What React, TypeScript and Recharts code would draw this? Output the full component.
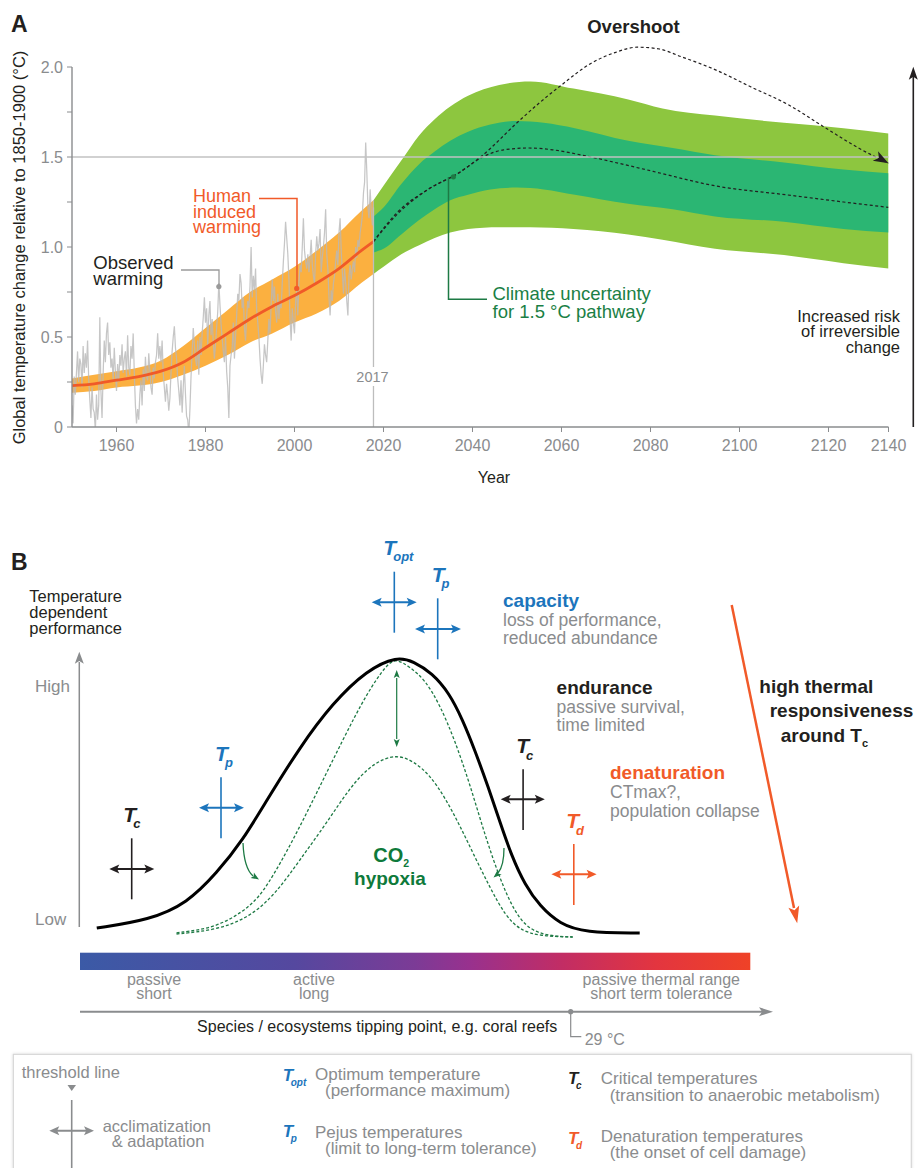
import React from "react";
import {
  ComposedChart,
  Area,
  Line,
  XAxis,
  YAxis,
  ReferenceLine,
  ReferenceDot,
} from "recharts";

const FONT = "'Liberation Sans', Arial, Helvetica, sans-serif";
const GRAY = "#8a8c8e";
const INK = "#231f20";
const BLUE = "#1c75bc";
const ORANGE = "#f15a29";
const GREEN = "#1d7a44";

// ---------- panel A ----------
const xTicks = [1960, 1980, 2000, 2020, 2040, 2060, 2080, 2100, 2120, 2140];
const yTicks = [0, 0.25, 0.5, 0.75, 1, 1.25, 1.5, 1.75, 2];

// observed warming, quarterly from 1950
const observedStart = 1950;
const observed = [
  0.12, 0.02, 0.28, 0.18, 0.3, 0.42, 0.25, 0.38, 0.35, 0.22, 0.45, 0.3,
  0.41, 0.33, 0.48, 0.27, 0.15, 0.05, 0.22, 0.1, 0.08, -0.02, 0.18, 0.04,
  0.12, 0.61, 0.2, 0.05, 0.3, 0.48, 0.36, 0.52, 0.58, 0.4, 0.47, 0.33,
  0.38, 0.26, 0.44, 0.31, 0.2, 0.35, 0.25, 0.4, 0.34, 0.46, 0.3, 0.38,
  0.42, 0.28, 0.51, 0.33, 0.29, 0.45, 0.38, 0.52, 0.3, 0.12, 0.02, 0.1,
  0.04, 0.18, 0.26, 0.12, 0.32, 0.2, 0.39, 0.28, 0.26, 0.41, 0.31, 0.22,
  0.18, 0.33, 0.27, 0.36, 0.4, 0.52, 0.38, 0.45, 0.36, 0.48, 0.3, 0.22,
  0.14, 0.24, 0.18, 0.09, 0.16, 0.3, 0.42, 0.5, 0.56, 0.44, 0.38, 0.27,
  0.2, 0.12, 0.26, 0.08, 0.22, 0.34, 0.18, 0.06, 0.04, -0.04, 0.1, 0.28,
  0.42, 0.55, 0.46, 0.38, 0.34, 0.48, 0.29, 0.5, 0.4, 0.52, 0.61, 0.72,
  0.58, 0.66, 0.45, 0.62, 0.7, 0.51, 0.6, 0.47, 0.38, 0.46, 0.55, 0.64,
  0.8, 0.68, 0.57, 0.49, 0.42, 0.36, 0.5, 0.31, 0.22, 0.05, 0.34, 0.4,
  0.44, 0.58, 0.38, 0.5, 0.62, 0.74, 0.7, 0.85, 0.8, 0.66, 0.72, 0.55,
  0.48, 0.62, 0.7, 0.66, 0.78, 1.0, 0.72, 0.84, 0.76, 0.88, 0.65, 0.58,
  0.5, 0.38, 0.29, 0.24, 0.34, 0.46, 0.4, 0.36, 0.48, 0.6, 0.52, 0.68,
  0.82, 0.7, 0.78, 0.64, 0.58, 0.74, 0.6, 0.7, 0.66, 0.8, 0.92, 1.02,
  1.14, 1.05, 0.96, 0.82, 0.6, 0.48, 0.66, 0.58, 0.52, 0.7, 0.76, 0.62,
  0.8, 0.9, 0.86, 1.0, 1.16, 0.98, 0.92, 0.88, 0.96, 0.86, 0.94, 1.04,
  0.9, 0.84, 0.8, 0.96, 1.06, 0.98, 1.02, 1.1, 0.86, 0.94, 1.0, 1.08,
  1.21, 0.96, 0.88, 0.72, 0.62, 0.76, 0.7, 0.8, 0.84, 0.92, 0.98, 0.9,
  1.08, 1.16, 0.98, 0.86, 0.74, 0.88, 0.8, 0.7, 0.62, 0.84, 0.9, 0.82,
  0.88, 0.92, 0.86, 1.0, 0.94, 1.04, 1.0, 1.08, 1.12, 1.18, 1.3, 1.36,
  1.58, 1.42, 1.22, 1.16, 1.32, 1.2, 1.12, 1.26,
];

// human induced warming (best estimate and likely range)
const humanYears = [1950, 1955, 1960, 1965, 1970, 1975, 1980, 1985, 1990, 1995, 2000, 2005, 2010, 2015, 2017.75];
const humanMid = [0.23, 0.24, 0.26, 0.28, 0.31, 0.36, 0.44, 0.52, 0.6, 0.67, 0.73, 0.8, 0.88, 0.98, 1.03];
const humanLow = [0.19, 0.2, 0.22, 0.23, 0.25, 0.29, 0.34, 0.4, 0.47, 0.52, 0.58, 0.63, 0.7, 0.8, 0.85];
const humanHigh = [0.27, 0.29, 0.31, 0.33, 0.37, 0.45, 0.55, 0.65, 0.75, 0.82, 0.89, 0.98, 1.08, 1.2, 1.26];

// climate uncertainty for the 1.5 °C pathway
const outerYears = [2017.75, 2020, 2024, 2028, 2031.5, 2035, 2039, 2046, 2053, 2062.7, 2075, 2082.7, 2094.5, 2110, 2125, 2140];
const outerLow = [0.85, 0.89, 0.96, 1.01, 1.05, 1.08, 1.1, 1.11, 1.11, 1.1, 1.07, 1.04, 0.99, 0.955, 0.91, 0.88];
const outerHigh = [1.26, 1.34, 1.48, 1.62, 1.71, 1.78, 1.84, 1.9, 1.92, 1.88, 1.82, 1.77, 1.73, 1.69, 1.66, 1.63];
const innerYears = [2017.75, 2020, 2024, 2028, 2031.5, 2035, 2039, 2044, 2050, 2056, 2063, 2075, 2085, 2094.5, 2110, 2125, 2140];
const innerLow = [0.97, 0.99, 1.07, 1.15, 1.21, 1.26, 1.29, 1.32, 1.33, 1.32, 1.29, 1.24, 1.21, 1.17, 1.14, 1.1, 1.08];
const innerHigh = [1.17, 1.22, 1.35, 1.46, 1.53, 1.59, 1.64, 1.68, 1.7, 1.69, 1.66, 1.59, 1.55, 1.51, 1.47, 1.43, 1.41];

const pathwayYears = [2017.75, 2023, 2030, 2036.8, 2042.3, 2047, 2052.7, 2058, 2064.7, 2072, 2080.6, 2094.5, 2110.5, 2125, 2140];
const pathway = [1.03, 1.19, 1.32, 1.41, 1.5, 1.54, 1.55, 1.54, 1.51, 1.47, 1.42, 1.34, 1.29, 1.25, 1.22];
const overshootYears = [2017.75, 2023, 2030, 2036.8, 2042.3, 2050, 2055, 2060, 2066.6, 2072, 2077, 2082, 2086.6, 2095, 2102.5, 2111, 2118.8, 2130, 2140];
const overshoot = [1.03, 1.18, 1.32, 1.41, 1.51, 1.69, 1.8, 1.9, 2.02, 2.08, 2.11, 2.1, 2.06, 1.98, 1.89, 1.79, 1.67, 1.55, 1.465];

// ---------- panel B (relative temperature 0-100, performance 0-100) ----------
const performanceT = [2.5, 10.4, 16.0, 20.4, 24.3, 27.9, 32.8, 37.7, 42.8, 47.3, 49.8, 52.5, 55.1, 57.1, 58.9, 60.9, 62.7, 64.4, 66.4, 68.6, 71.6, 75.3, 83.5];
const performanceP = [4.0, 6.7, 12.3, 22.3, 33.3, 46.7, 64.3, 79.0, 90.0, 94.6, 92.8, 89.0, 82.3, 73.3, 63.3, 51.0, 39.0, 28.0, 18.3, 11.3, 5.3, 2.5, 2.3];
const normoxicT = [14.4, 20.4, 25.4, 27.9, 31.8, 35.3, 39.2, 42.8, 45.8, 47.2, 49.2, 51.5, 53.7, 55.9, 58.2, 60.4, 62.7, 64.9, 67.1, 70.1, 73.5];
const normoxicP = [2.4, 4.0, 11.0, 17.7, 33.3, 49.0, 66.7, 82.3, 92.0, 93.8, 91.0, 86.7, 78.3, 66.7, 51.7, 35.0, 20.0, 9.0, 3.3, 1.3, 1.0];
const hypoxicT = [14.4, 20.4, 25.4, 29.3, 32.8, 36.8, 40.3, 43.7, 47.2, 49.8, 52.2, 54.5, 56.7, 58.9, 61.2, 63.4, 65.6, 68.6, 73.5];
const hypoxicP = [2.0, 3.3, 7.7, 15.7, 26.7, 39.0, 51.0, 59.0, 62.0, 59.5, 55.0, 47.3, 38.0, 27.7, 17.3, 8.3, 3.3, 1.3, 1.0];

// merge the panel A series into one table keyed by year
const rows = new Map<number, any>();
function put(xs: number[], key: string, vals: any[]) {
  xs.forEach((x, i) => {
    const r = rows.get(x) ?? { year: x };
    r[key] = vals[i];
    rows.set(x, r);
  });
}
put(observed.map((_, i) => observedStart + i * 0.25), "observed", observed);
put(humanYears, "human", humanMid);
put(humanYears, "humanRange", humanLow.map((v, i) => [v, humanHigh[i]]));
put(outerYears, "outer", outerLow.map((v, i) => [v, outerHigh[i]]));
put(innerYears, "inner", innerLow.map((v, i) => [v, innerHigh[i]]));
put(pathwayYears, "pathway", pathway);
put(overshootYears, "overshoot", overshoot);
const tableA = Array.from(rows.values()).sort((a, b) => a.year - b.year);

const perfData = performanceT.map((t, i) => ({ t, p: performanceP[i] }));
const normoxicData = normoxicT.map((t, i) => ({ t, p: normoxicP[i] }));
const hypoxicData = hypoxicT.map((t, i) => ({ t, p: hypoxicP[i] }));

// year axis as drawn in the figure: even spacing up to 2120, last tick squeezed
const YEAR_KNOTS = [1950, 2120, 2140];
const POS_KNOTS = [0, 0.9265, 1];
function makeYearScale(): any {
  let dom: number[] = [1950, 2140];
  let rng: number[] = [0, 1];
  const frac = (v: number) => {
    let i = 1;
    while (i < YEAR_KNOTS.length - 1 && v > YEAR_KNOTS[i]) i++;
    const a = YEAR_KNOTS[i - 1];
    const b = YEAR_KNOTS[i];
    return POS_KNOTS[i - 1] + ((v - a) / (b - a)) * (POS_KNOTS[i] - POS_KNOTS[i - 1]);
  };
  const scale: any = (v: any) => rng[0] + frac(Number(v)) * (rng[1] - rng[0]);
  scale.domain = (d?: any[]) => {
    if (!d) return dom.slice();
    dom = d.map(Number);
    return scale;
  };
  scale.range = (r?: number[]) => {
    if (!r) return rng.slice();
    rng = r.slice();
    return scale;
  };
  scale.rangeRound = scale.range;
  scale.copy = () => makeYearScale().domain(dom).range(rng);
  scale.ticks = () => xTicks.slice();
  scale.tickFormat = () => (v: number) => String(v);
  scale.nice = () => scale;
  scale.clamp = () => scale;
  scale.unknown = () => scale;
  scale.invert = (px: number) => {
    const f = (px - rng[0]) / (rng[1] - rng[0]);
    let i = 1;
    while (i < POS_KNOTS.length - 1 && f > POS_KNOTS[i]) i++;
    const a = POS_KNOTS[i - 1];
    const b = POS_KNOTS[i];
    return YEAR_KNOTS[i - 1] + ((f - a) / (b - a)) * (YEAR_KNOTS[i] - YEAR_KNOTS[i - 1]);
  };
  return scale;
}
const yearScale = makeYearScale();

const fmtY = (v: number) => (v % 0.5 === 0 ? (v === 0 ? "0" : v.toFixed(1)) : "");

function Head({ x, y, angle, len = 9, half = 4, fill }: any) {
  return (
    <polygon
      points={`0,0 ${-len},${-half} ${-len * 0.78},0 ${-len},${half}`}
      transform={`translate(${x},${y}) rotate(${angle})`}
      fill={fill}
    />
  );
}

function Cross({ cx, top, bottom, cy, left, right, color }: any) {
  return (
    <g>
      <line x1={cx} y1={top} x2={cx} y2={bottom} stroke={color} strokeWidth={1.6} />
      <line x1={left + 5} y1={cy} x2={right - 5} y2={cy} stroke={color} strokeWidth={2} />
      <Head x={right} y={cy} angle={0} len={10} half={4.5} fill={color} />
      <Head x={left} y={cy} angle={180} len={10} half={4.5} fill={color} />
    </g>
  );
}

function Lines({ x, y, lines, gap, anchor = "start", ...rest }: any) {
  return (
    <text x={x} y={y} textAnchor={anchor} fontFamily={FONT} {...rest}>
      {lines.map((l: string, i: number) => (
        <tspan key={i} x={x} y={y + i * gap}>
          {l}
        </tspan>
      ))}
    </text>
  );
}

function TSym({ x, y, sub, color, size = 21, subSize = 13 }: any) {
  return (
    <text x={x} y={y} fill={color} fontFamily={FONT} fontWeight="bold" fontStyle="italic" fontSize={size}>
      T
      <tspan fontSize={subSize} dx={-size * 0.14} dy={size * 0.3}>
        {sub}
      </tspan>
    </text>
  );
}

const overshootHead = (props: any) => {
  const { cx, cy, payload, index } = props;
  if (cx == null || cy == null || !payload || payload.year !== overshootYears[overshootYears.length - 1]) {
    return <g key={`oh-${index}`} />;
  }
  return (
    <polygon
      key="oh-end"
      points="0,0 -15,-5.5 -11,0 -15,5.5"
      transform={`translate(${cx},${cy}) rotate(29)`}
      fill={INK}
    />
  );
};

function Overlay() {
  const tick = { fontFamily: FONT };
  return (
    <svg width={918} height={1168} style={{ position: "absolute", left: 0, top: 0, pointerEvents: "none" }}>
      <defs>
        <linearGradient id="thermalBar" x1="0" x2="1" y1="0" y2="0">
          <stop offset="0%" stopColor="#3b5aa6" />
          <stop offset="32%" stopColor="#55489f" />
          <stop offset="50%" stopColor="#7c3b96" />
          <stop offset="58%" stopColor="#98318e" />
          <stop offset="72%" stopColor="#c22d64" />
          <stop offset="86%" stopColor="#e3353f" />
          <stop offset="100%" stopColor="#ef4227" />
        </linearGradient>
        <filter id="boxShadow" x="-5%" y="-20%" width="110%" height="140%">
          <feDropShadow dx="0" dy="0" stdDeviation="1.5" floodColor="#000" floodOpacity="0.12" />
        </filter>
      </defs>

      {/* ---- panel A annotations ---- */}
      <text x={11} y={31.5} fontFamily={FONT} fontWeight="bold" fontSize={23} fill={INK}>A</text>
      <text transform="translate(25,247.5) rotate(-90)" textAnchor="middle" fontFamily={FONT} fontSize={16.5} fill={INK}>
        Global temperature change relative to 1850-1900 (°C)
      </text>
      <text x={633.5} y={33.3} textAnchor="middle" fontFamily={FONT} fontWeight="bold" fontSize={18.5} fill={INK}>Overshoot</text>

      <Lines x={193} y={201.7} gap={15.8} lines={["Human", "induced", "warming"]} fontSize={18} fill={ORANGE} />
      <polyline points="259,198.5 297,198.5 297,288" fill="none" stroke={ORANGE} strokeWidth={1.5} />

      <Lines x={93.3} y={269.3} gap={15.8} lines={["Observed", "warming"]} fontSize={18.5} fill={INK} />
      <polyline points="181,270 219,270 219,287" fill="none" stroke="#9a9a9a" strokeWidth={1.3} />

      <polyline points="448.5,177 448.5,299.3 487,299.3" fill="none" stroke={GREEN} strokeWidth={1.5} />
      <Lines x={492.5} y={300} gap={18.3} lines={["Climate uncertainty", "for 1.5 °C pathway"]} fontSize={18.5} fill="#1b7f45" />

      <rect x={355} y={367} width={36} height={19} fill="#fff" />
      <text x={372.5} y={381.7} textAnchor="middle" {...tick} fontSize={14.5} fill={GRAY}>2017</text>
      <text x={494} y={483} textAnchor="middle" {...tick} fontSize={16} fill={INK}>Year</text>

      <Lines x={900} y={321.7} gap={15.7} anchor="end" lines={["Increased risk", "of irreversible", "change"]} fontSize={16.5} fill={INK} />
      <line x1={913.3} y1={427} x2={913.3} y2={76} stroke={INK} strokeWidth={1.6} />
      <Head x={913.3} y={66.7} angle={-90} len={13} half={4.5} fill={INK} />

      {/* ---- panel B annotations ---- */}
      <text x={11} y={570} fontFamily={FONT} fontWeight="bold" fontSize={23} fill={INK}>B</text>
      <Lines x={29.3} y={601.7} gap={15.9} lines={["Temperature", "dependent", "performance"]} fontSize={16.5} fill={INK} />
      <line x1={79.3} y1={927} x2={79.3} y2={662} stroke={GRAY} strokeWidth={1.5} />
      <Head x={79.3} y={651.7} angle={-90} len={12} half={4.5} fill={GRAY} />
      <text x={35} y={691.7} fontFamily={FONT} fontSize={17} fill={GRAY}>High</text>
      <text x={35} y={925} fontFamily={FONT} fontSize={17} fill={GRAY}>Low</text>

      <TSym x={383.3} y={555} sub="opt" color={BLUE} />
      <Cross cx={394.3} top={571.7} bottom={632.7} cy={602.3} left={371.7} right={416.7} color={BLUE} />
      <TSym x={431.7} y={581.7} sub="p" color={BLUE} />
      <Cross cx={437.7} top={598.3} bottom={659.3} cy={629} left={415} right={461} color={BLUE} />
      <TSym x={215} y={760.7} sub="p" color={BLUE} />
      <Cross cx={221} top={777.3} bottom={838.3} cy={807.7} left={199} right={244} color={BLUE} />
      <TSym x={123.3} y={821.7} sub="c" color={INK} />
      <Cross cx={131.7} top={838.3} bottom={899.3} cy={869} left={109.3} right={154.3} color={INK} />
      <TSym x={516.2} y={753.3} sub="c" color={INK} />
      <Cross cx={523.1} top={769.3} bottom={830} cy={799.3} left={500.7} right={544.8} color={INK} />
      <TSym x={566.2} y={828.3} sub="d" color={ORANGE} />
      <Cross cx={573.8} top={844} bottom={905} cy={874.3} left={551.4} right={596.6} color={ORANGE} />

      <text x={503} y={606.7} fontFamily={FONT} fontWeight="bold" fontSize={19} fill={BLUE}>capacity</text>
      <Lines x={503} y={626} gap={18} lines={["loss of performance,", "reduced abundance"]} fontSize={17.5} fill={GRAY} />
      <text x={556.6} y={694} fontFamily={FONT} fontWeight="bold" fontSize={19} fill={INK}>endurance</text>
      <Lines x={556.6} y={712.7} gap={18.3} lines={["passive survival,", "time limited"]} fontSize={17.5} fill={GRAY} />
      <text x={610} y={778.7} fontFamily={FONT} fontWeight="bold" fontSize={19} fill={ORANGE}>denaturation</text>
      <Lines x={610} y={797.7} gap={19} lines={["CTmax?,", "population collapse"]} fontSize={17.5} fill={GRAY} />

      <line x1={731.7} y1={605} x2={794} y2={908} stroke={ORANGE} strokeWidth={2.5} />
      <Head x={797.2} y={923.3} angle={78.4} len={17} half={5.5} fill={ORANGE} />
      <text x={759.3} y={693} fontFamily={FONT} fontWeight="bold" fontSize={19} fill={INK}>high thermal</text>
      <text x={769.7} y={716.7} fontFamily={FONT} fontWeight="bold" fontSize={19} fill={INK}>responsiveness</text>
      <text x={780.7} y={741.7} fontFamily={FONT} fontWeight="bold" fontSize={19} fill={INK}>
        around T<tspan fontSize={11} dy={5}>c</tspan>
      </text>

      <line x1={396.7} y1={678} x2={396.7} y2={739} stroke={GREEN} strokeWidth={1.2} />
      <Head x={396.7} y={670} angle={-90} len={8} half={3} fill={GREEN} />
      <Head x={396.7} y={747} angle={90} len={8} half={3} fill={GREEN} />
      <path d="M243,843 Q244,868 253,876" fill="none" stroke={GREEN} strokeWidth={1.3} />
      <Head x={259} y={879.5} angle={32} len={8} half={3.2} fill={GREEN} />
      <path d="M504,848 Q504,866 498,873" fill="none" stroke={GREEN} strokeWidth={1.3} />
      <Head x={493.5} y={877.5} angle={140} len={8} half={3.2} fill={GREEN} />
      <text x={373.3} y={861.7} fontFamily={FONT} fontWeight="bold" fontSize={20} fill="#0e7a3b">
        CO<tspan fontSize={10.5} dy={5}>2</tspan>
      </text>
      <text x={390} y={885} textAnchor="middle" fontFamily={FONT} fontWeight="bold" fontSize={19} fill="#0e7a3b">hypoxia</text>

      <rect x={80} y={952.7} width={670.3} height={17.3} fill="url(#thermalBar)" />
      <Lines x={154} y={985} gap={14} anchor="middle" lines={["passive", "short"]} fontSize={16} fill={GRAY} />
      <Lines x={314} y={985} gap={14} anchor="middle" lines={["active", "long"]} fontSize={16} fill={GRAY} />
      <Lines x={661.3} y={985} gap={14} anchor="middle" lines={["passive thermal range", "short term tolerance"]} fontSize={16} fill={GRAY} />
      <line x1={80} y1={1011.7} x2={762} y2={1011.7} stroke={GRAY} strokeWidth={2} />
      <Head x={773} y={1011.7} angle={0} len={14} half={4.5} fill={GRAY} />
      <circle cx={570.7} cy={1011.7} r={2.6} fill={GRAY} />
      <polyline points="570.7,1011.7 570.7,1036.7 581.3,1036.7" fill="none" stroke={GRAY} strokeWidth={1.2} />
      <text x={584.7} y={1045} fontFamily={FONT} fontSize={16} fill={GRAY}>29 °C</text>
      <text x={557.3} y={1031.7} textAnchor="end" fontFamily={FONT} fontSize={16} fill={INK}>
        Species / ecosystems tipping point, e.g. coral reefs
      </text>

      {/* legend box */}
      <rect x={13.3} y={1054.3} width={898} height={130} fill="#fff" stroke="#d6d6d6" strokeWidth={1.2} filter="url(#boxShadow)" />
      <text x={21.7} y={1078} fontFamily={FONT} fontSize={16.5} fill={GRAY}>threshold line</text>
      <polygon points="67.5,1085 76,1085 71.7,1091" fill={GRAY} />
      <line x1={71.7} y1={1100} x2={71.7} y2={1168} stroke={GRAY} strokeWidth={1.6} />
      <line x1={54} y1={1130.7} x2={89} y2={1130.7} stroke={GRAY} strokeWidth={2} />
      <Head x={94} y={1130.7} angle={0} len={10} half={4.5} fill={GRAY} />
      <Head x={49.3} y={1130.7} angle={180} len={10} half={4.5} fill={GRAY} />
      <text x={102.7} y={1132.3} fontFamily={FONT} fontSize={16.5} fill={GRAY}>acclimatization</text>
      <text x={111.7} y={1146.7} fontFamily={FONT} fontSize={16.5} fill={GRAY}>&amp; adaptation</text>

      <TSym x={282.7} y={1080.7} sub="opt" color={BLUE} size={17} subSize={10} />
      <text x={315} y={1080.3} fontFamily={FONT} fontSize={17} fill={GRAY}>Optimum temperature</text>
      <text x={325} y={1096} fontFamily={FONT} fontSize={17} fill={GRAY}>(performance maximum)</text>
      <TSym x={282.7} y={1137} sub="p" color={BLUE} size={17} subSize={10} />
      <text x={315} y={1138} fontFamily={FONT} fontSize={17} fill={GRAY}>Pejus temperatures</text>
      <text x={325} y={1153.5} fontFamily={FONT} fontSize={17} fill={GRAY}>(limit to long-term tolerance)</text>
      <TSym x={568} y={1084} sub="c" color={INK} size={17} subSize={10} />
      <text x={600.7} y={1084.3} fontFamily={FONT} fontSize={17} fill={GRAY}>Critical temperatures</text>
      <text x={609.7} y={1100.5} fontFamily={FONT} fontSize={17} fill={GRAY}>(transition to anaerobic metabolism)</text>
      <TSym x={568} y={1144} sub="d" color={ORANGE} size={17} subSize={10} />
      <text x={600.7} y={1141.7} fontFamily={FONT} fontSize={17} fill={GRAY}>Denaturation temperatures</text>
      <text x={609.7} y={1157.5} fontFamily={FONT} fontSize={17} fill={GRAY}>(the onset of cell damage)</text>
    </svg>
  );
}

export default function App() {
  const tickStyle = { fill: GRAY, fontSize: 16, fontFamily: FONT };
  return (
    <div style={{ position: "absolute", left: 0, top: 0, width: 918, height: 1168, background: "#fff", overflow: "hidden" }}>
      <div style={{ position: "absolute", left: 0, top: 0 }}>
        <ComposedChart
          width={918}
          height={500}
          data={tableA}
          margin={{ top: 31, right: 29.5, bottom: 43, left: 32 }}
        >
          <XAxis
            dataKey="year"
            type="number"
            domain={[1950, 2140]}
            scale={yearScale}
            ticks={xTicks}
            interval={0}
            allowDataOverflow
            height={30}
            tickSize={5}
            tickMargin={8}
            tick={tickStyle}
            tickLine={{ stroke: GRAY }}
            axisLine={{ stroke: GRAY, strokeWidth: 1.4 }}
          />
          <YAxis
            type="number"
            domain={[0, 2.2]}
            ticks={yTicks}
            interval={0}
            allowDataOverflow
            width={40}
            tickSize={5}
            tickMargin={4}
            tick={tickStyle}
            tickFormatter={fmtY}
            tickLine={{ stroke: GRAY }}
            axisLine={false}
          />
          <Area dataKey="humanRange" type="monotone" fill="#fbb040" fillOpacity={1} stroke="none" connectNulls isAnimationActive={false} />
          <Area dataKey="outer" type="monotone" fill="#8dc63f" fillOpacity={1} stroke="none" connectNulls isAnimationActive={false} />
          <Area dataKey="inner" type="monotone" fill="#2bb673" fillOpacity={1} stroke="none" connectNulls isAnimationActive={false} />
          <Line dataKey="observed" type="linear" stroke="#b8b8b8" strokeOpacity={0.8} strokeWidth={1.25} dot={false} connectNulls isAnimationActive={false} />
          <Line dataKey="human" type="monotone" stroke="#f05a28" strokeWidth={2.8} dot={false} connectNulls isAnimationActive={false} />
          <Line dataKey="pathway" type="monotone" stroke={INK} strokeWidth={1.2} strokeDasharray="3 2.5" dot={false} connectNulls isAnimationActive={false} />
          <Line dataKey="overshoot" type="monotone" stroke={INK} strokeWidth={1.2} strokeDasharray="3 2.5" dot={overshootHead} connectNulls isAnimationActive={false} />
          <ReferenceLine y={1.5} stroke="#c2c2c2" strokeWidth={1.6} />
          <ReferenceLine segment={[{ x: 2017.75, y: 0 }, { x: 2017.75, y: 1.22 }]} stroke="#bdbdbd" strokeWidth={1.3} />
          <ReferenceLine segment={[{ x: 1950, y: 0 }, { x: 1950, y: 2 }]} stroke={GRAY} strokeWidth={1.4} />
          <ReferenceDot x={1983} y={0.78} r={2.6} fill="#9a9a9a" stroke="none" />
          <ReferenceDot x={2000.5} y={0.77} r={2.6} fill={ORANGE} stroke="none" />
          <ReferenceDot x={2035.7} y={1.39} r={2.6} fill={GREEN} stroke="none" />
        </ComposedChart>
      </div>

      <div style={{ position: "absolute", left: 0, top: 500 }}>
        <ComposedChart width={918} height={668} margin={{ top: 140, right: 167.7, bottom: 228, left: 80 }}>
          <XAxis dataKey="t" type="number" domain={[0, 100]} hide allowDataOverflow />
          <YAxis type="number" domain={[0, 100]} hide allowDataOverflow />
          <Line data={normoxicData} dataKey="p" type="basis" stroke="#1f7a45" strokeWidth={1.3} strokeDasharray="3 2" dot={false} isAnimationActive={false} />
          <Line data={hypoxicData} dataKey="p" type="basis" stroke="#1f7a45" strokeWidth={1.3} strokeDasharray="3 2" dot={false} isAnimationActive={false} />
          <Line data={perfData} dataKey="p" type="basis" stroke="#000" strokeWidth={3} dot={false} isAnimationActive={false} />
        </ComposedChart>
      </div>

      <Overlay />
    </div>
  );
}
